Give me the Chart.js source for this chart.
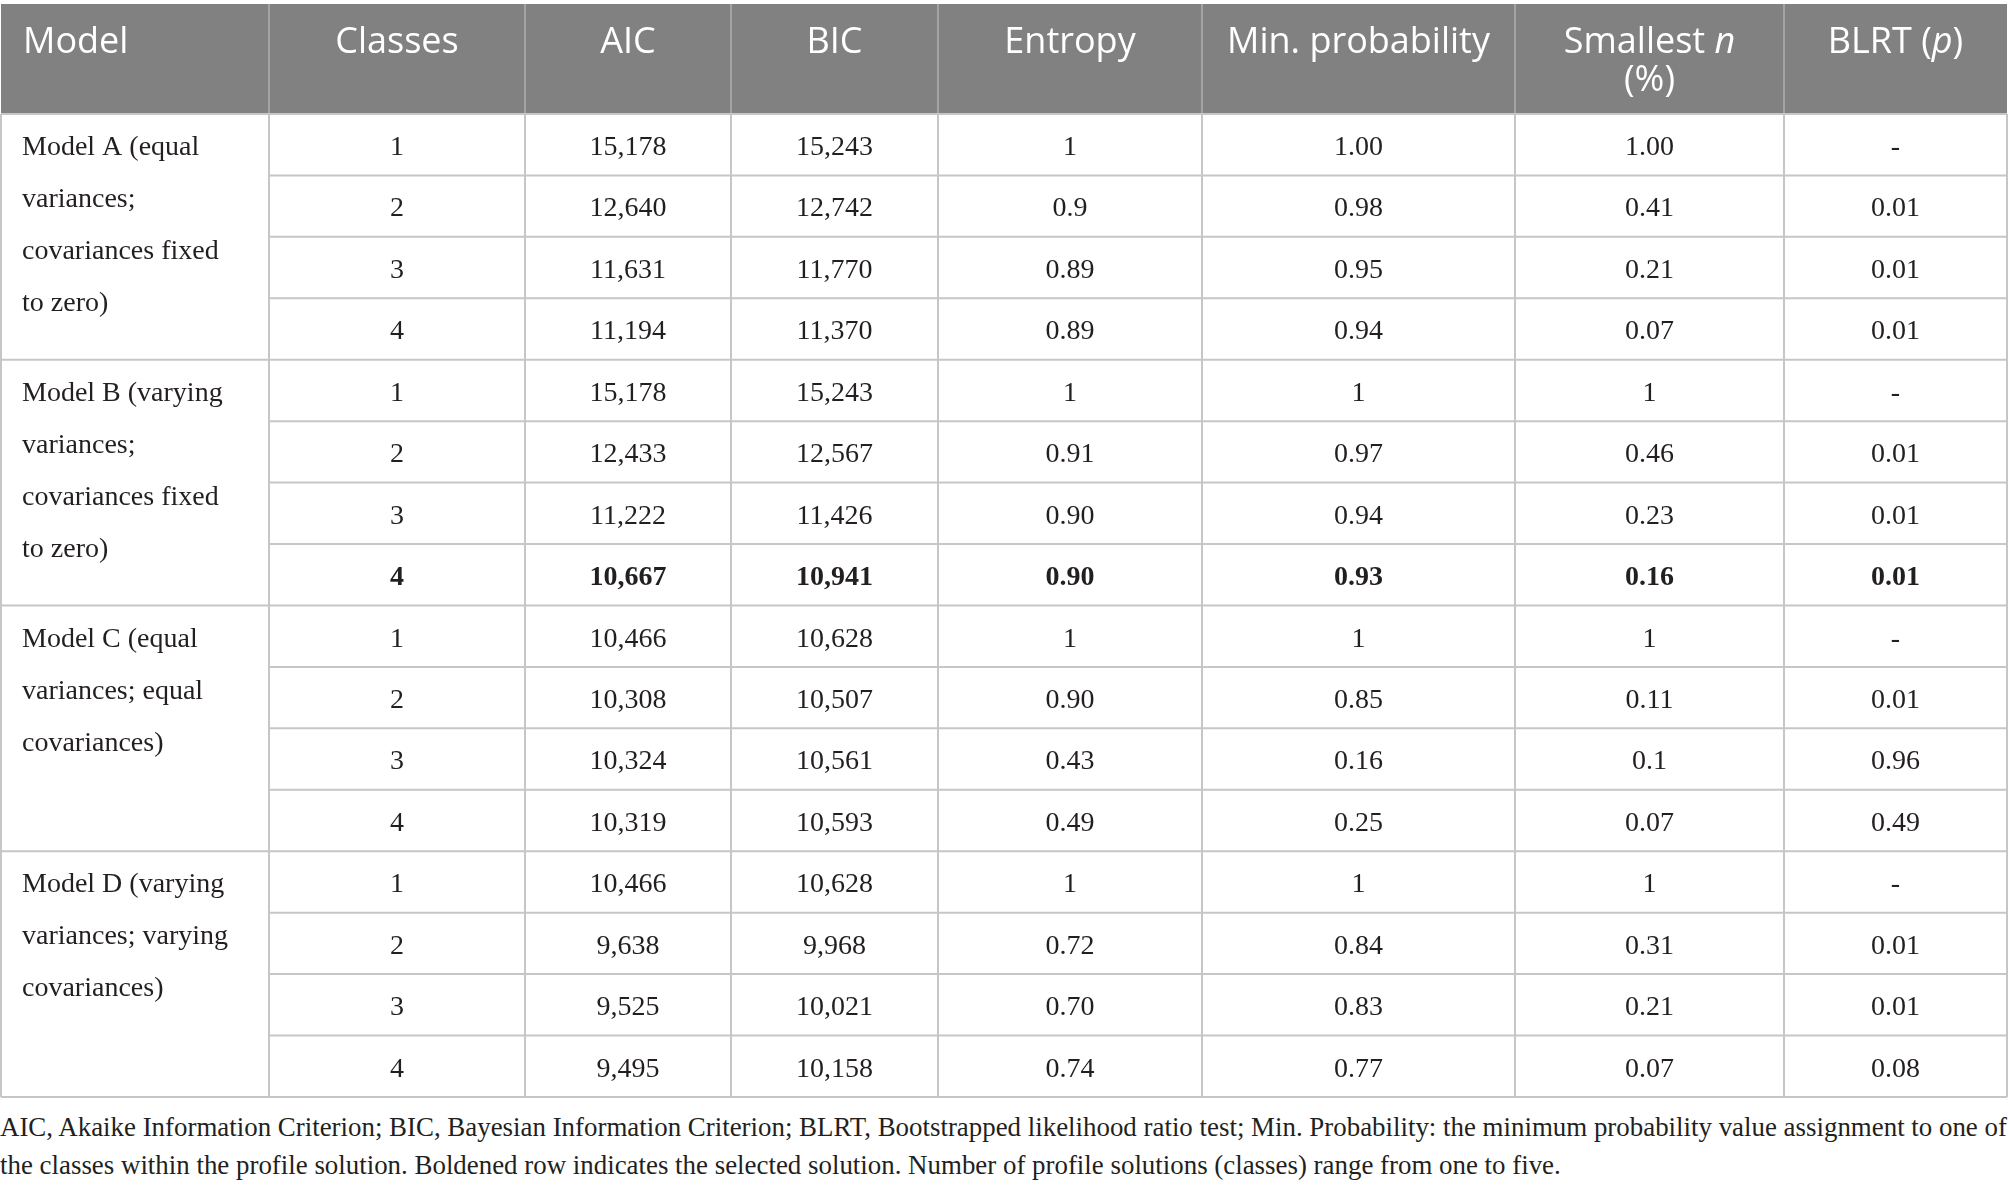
<!DOCTYPE html>
<html>
<head>
<meta charset="utf-8">
<script src="https://cdn.jsdelivr.net/npm/chart.js@4.4.1/dist/chart.umd.min.js"></script>
<style>
  html, body { margin: 0; padding: 0; background: #fff; }
  #wrap { width: 2009px; }
  #note {
    font-family: "Liberation Serif", serif;
    font-size: 26.9px;
    line-height: 38px;
    color: #231f20;
    margin-top: 8px;
    white-space: nowrap;
  }
</style>
</head>
<body>
<div id="wrap">
  <canvas id="table" width="2009" height="1100"></canvas>
  <div id="note">AIC, Akaike Information Criterion; BIC, Bayesian Information Criterion; BLRT, Bootstrapped likelihood ratio test; Min. Probability: the minimum probability value assignment to one of<br>the classes within the profile solution. Boldened row indicates the selected solution. Number of profile solutions (classes) range from one to five.</div>
</div>
<script>
// table values, one entry per row
const models = [
  ["Model A (equal", "variances;", "covariances fixed", "to zero)"],
  ["Model B (varying", "variances;", "covariances fixed", "to zero)"],
  ["Model C (equal", "variances; equal", "covariances)"],
  ["Model D (varying", "variances; varying", "covariances)"],
];
const classes = [1, 2, 3, 4, 1, 2, 3, 4, 1, 2, 3, 4, 1, 2, 3, 4];
const aic = [15178, 12640, 11631, 11194, 15178, 12433, 11222, 10667, 10466, 10308, 10324, 10319, 10466, 9638, 9525, 9495];
const bic = [15243, 12742, 11770, 11370, 15243, 12567, 11426, 10941, 10628, 10507, 10561, 10593, 10628, 9968, 10021, 10158];
const entropy = ["1", "0.9", "0.89", "0.89", "1", "0.91", "0.90", "0.90", "1", "0.90", "0.43", "0.49", "1", "0.72", "0.70", "0.74"];
const minProb = ["1.00", "0.98", "0.95", "0.94", "1", "0.97", "0.94", "0.93", "1", "0.85", "0.16", "0.25", "1", "0.84", "0.83", "0.77"];
const smallestN = ["1.00", "0.41", "0.21", "0.07", "1", "0.46", "0.23", "0.16", "1", "0.11", "0.1", "0.07", "1", "0.31", "0.21", "0.07"];
const blrt = ["-", "0.01", "0.01", "0.01", "-", "0.01", "0.01", "0.01", "-", "0.01", "0.96", "0.49", "-", "0.01", "0.01", "0.08"];
const boldRow = 7;

// header pieces: [text, italic]
const headers = [
  [[["Model", false]]],
  [[["Classes", false]]],
  [[["AIC", false]]],
  [[["BIC", false]]],
  [[["Entropy", false]]],
  [[["Min. probability", false]]],
  [[["Smallest ", false], ["n", true]], [["(%)", false]]],
  [[["BLRT (", false], ["p", true], [")", false]]],
];

// layout
const COL_WIDTHS = [268, 256, 206, 207, 264, 313, 269, 223];
const HEADER_ROWS = 1.79;
const ROWS_PER_MODEL = 4;
const HEADER_BG = "#808180";
const LINE = "#c6c6c6";
const HEAD_LINE = "#a3a4a3";
const TEXT = "#231f20";
const SERIF = '"Liberation Serif", serif';
const SANS = '"Open Sans", sans-serif';

const edges = [0];
COL_WIDTHS.forEach((w) => edges.push(edges[edges.length - 1] + w));
const center = (j) => (edges[j] + edges[j + 1]) / 2;
const nRows = classes.length;

const fmt = (v) => v.toLocaleString("en-US");
const columns = [
  classes.map(String),
  aic.map(fmt),
  bic.map(fmt),
  entropy,
  minProb,
  smallestN,
  blrt,
];

const datasets = columns.map((vals, k) => ({
  label: headers[k + 1][0].map((p) => p[0]).join(""),
  texts: vals,
  data: vals.map((_, i) => ({ x: center(k + 1), y: i + 0.5 })),
  pointRadius: 0,
}));
datasets.push({
  label: "Model",
  texts: models,
  data: models.map((_, g) => ({ x: edges[0], y: g * ROWS_PER_MODEL + 0.5 })),
  pointRadius: 0,
});

function hLine(ctx, x0, x1, y, color) {
  ctx.strokeStyle = color;
  ctx.lineWidth = 2;
  ctx.beginPath();
  ctx.moveTo(x0, y);
  ctx.lineTo(x1, y);
  ctx.stroke();
}
function vLine(ctx, x, y0, y1, color) {
  ctx.strokeStyle = color;
  ctx.lineWidth = 2;
  ctx.beginPath();
  ctx.moveTo(x, y0);
  ctx.lineTo(x, y1);
  ctx.stroke();
}

const tablePlugin = {
  id: "tableGrid",
  beforeDatasetsDraw(chart) {
    const { ctx, scales: { x, y } } = chart;
    const left = x.getPixelForValue(edges[0]);
    const right = x.getPixelForValue(edges[edges.length - 1]);
    const top = y.getPixelForValue(-HEADER_ROWS);
    const headBottom = y.getPixelForValue(0);
    const bottom = y.getPixelForValue(nRows);
    ctx.save();
    ctx.fillStyle = HEADER_BG;
    ctx.fillRect(left, top, right - left, headBottom - top);

    // row lines
    for (let i = 1; i < nRows; i++) {
      const yy = y.getPixelForValue(i);
      const start = i % ROWS_PER_MODEL === 0 ? left : x.getPixelForValue(edges[1]);
      hLine(ctx, start, right, yy, LINE);
    }
    // column lines
    for (let j = 1; j < edges.length - 1; j++) {
      const xx = x.getPixelForValue(edges[j]);
      vLine(ctx, xx, top, headBottom, HEAD_LINE);
      vLine(ctx, xx, headBottom, bottom, LINE);
    }
    hLine(ctx, left, right, headBottom, LINE);
    hLine(ctx, left, right, bottom, LINE);
    vLine(ctx, left, headBottom, bottom, LINE);
    vLine(ctx, right, headBottom, bottom, LINE);

    // header labels
    ctx.fillStyle = "#ffffff";
    ctx.textBaseline = "middle";
    const lineH = 38;
    const size = "36px ";
    headers.forEach((lines, j) => {
      lines.forEach((pieces, l) => {
        const widths = pieces.map(([t, it]) => {
          ctx.font = (it ? "italic " : "") + size + SANS;
          return ctx.measureText(t).width;
        });
        const total = widths.reduce((a, b) => a + b, 0);
        let xx = j === 0
          ? x.getPixelForValue(edges[0]) + 22
          : x.getPixelForValue(center(j)) - total / 2;
        const yy = top + 39 + l * lineH;
        pieces.forEach(([t, it], p) => {
          ctx.font = (it ? "italic " : "") + size + SANS;
          ctx.textAlign = "left";
          ctx.fillText(t, xx, yy);
          xx += widths[p];
        });
      });
    });
    ctx.restore();
  },
  afterDatasetsDraw(chart) {
    const { ctx } = chart;
    ctx.save();
    ctx.fillStyle = TEXT;
    ctx.textBaseline = "middle";
    chart.data.datasets.forEach((ds, d) => {
      const meta = chart.getDatasetMeta(d);
      meta.data.forEach((el, i) => {
        const t = ds.texts[i];
        if (Array.isArray(t)) {
          ctx.font = "28px " + SERIF;
          ctx.textAlign = "left";
          t.forEach((line, l) => ctx.fillText(line, el.x + 21, el.y + 3 + l * 52));
        } else {
          ctx.font = (i === boldRow ? "bold " : "") + "28px " + SERIF;
          ctx.textAlign = "center";
          ctx.fillText(t, el.x, el.y + 3);
        }
      });
    });
    ctx.restore();
  },
};

new Chart(document.getElementById("table"), {
  type: "scatter",
  data: { datasets },
  options: {
    responsive: false,
    animation: false,
    devicePixelRatio: 1,
    layout: { padding: { left: 1, right: 2, top: 4, bottom: 3 } },
    events: [],
    scales: {
      x: { type: "linear", min: 0, max: edges[edges.length - 1], display: false },
      y: { type: "linear", min: -HEADER_ROWS, max: nRows, reverse: true, display: false },
    },
    plugins: { legend: { display: false }, tooltip: { enabled: false } },
  },
  plugins: [tablePlugin],
});
</script>
</body>
</html>
